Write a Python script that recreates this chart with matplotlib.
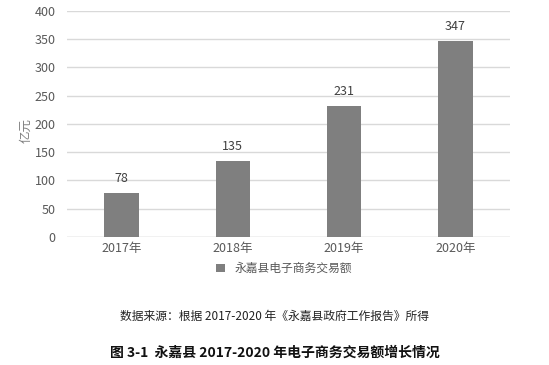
import matplotlib.pyplot as plt
import numpy as np

plt.rcParams['font.family'] = ['Noto Sans CJK SC', 'DejaVu Sans']

# 年份与交易额（亿元）
years = ["2017年", "2018年", "2019年", "2020年"]
values = [78, 135, 231, 347]
series_name = "永嘉县电子商务交易额"

x = np.arange(len(years))

fig = plt.figure(figsize=(5.49, 3.65), dpi=100)
ax = fig.add_axes([0.122, 0.351, 0.807, 0.619])

bars = ax.bar(x, values, width=0.31, color='#7f7f7f', label=series_name, zorder=3)
for b, v in zip(bars, values):
    ax.text(b.get_x() + b.get_width() / 2, v + 14, str(v), ha='center', va='bottom',
            fontsize=9, color='#404040')

ax.set_xlim(-0.49, 3.49)
ax.set_ylim(0, 400)
ax.set_yticks(range(0, 401, 50))
ax.set_xticks(x)
ax.set_xticklabels(years)
ax.tick_params(axis='both', length=0, labelsize=9, labelcolor='#595959')
ax.tick_params(axis='y', pad=8)
ax.grid(axis='y', color='#d9d9d9', linewidth=1, zorder=0)
for s in ax.spines.values():
    s.set_visible(False)
ax.axhline(0, color='#d9d9d9', linewidth=1, zorder=1)

ax.set_ylabel("亿元", fontsize=9, color='#808080', labelpad=2)
ax.yaxis.set_label_coords(-0.078, 0.47)

ax.legend(loc='upper center', bbox_to_anchor=(0.49, -0.065), frameon=False,
          fontsize=8.5, handlelength=0.7, handleheight=0.7, labelcolor='#595959')

fig.text(0.5, 0.134, "数据来源：根据 2017-2020 年《永嘉县政府工作报告》所得",
         ha='center', va='center', fontsize=8.5, color='#222222')
fig.text(0.5, 0.033, "图 3-1  永嘉县 2017-2020 年电子商务交易额增长情况",
         ha='center', va='center', fontsize=10, fontweight='bold', color='#111111')

fig.savefig('out.png', dpi=100)
